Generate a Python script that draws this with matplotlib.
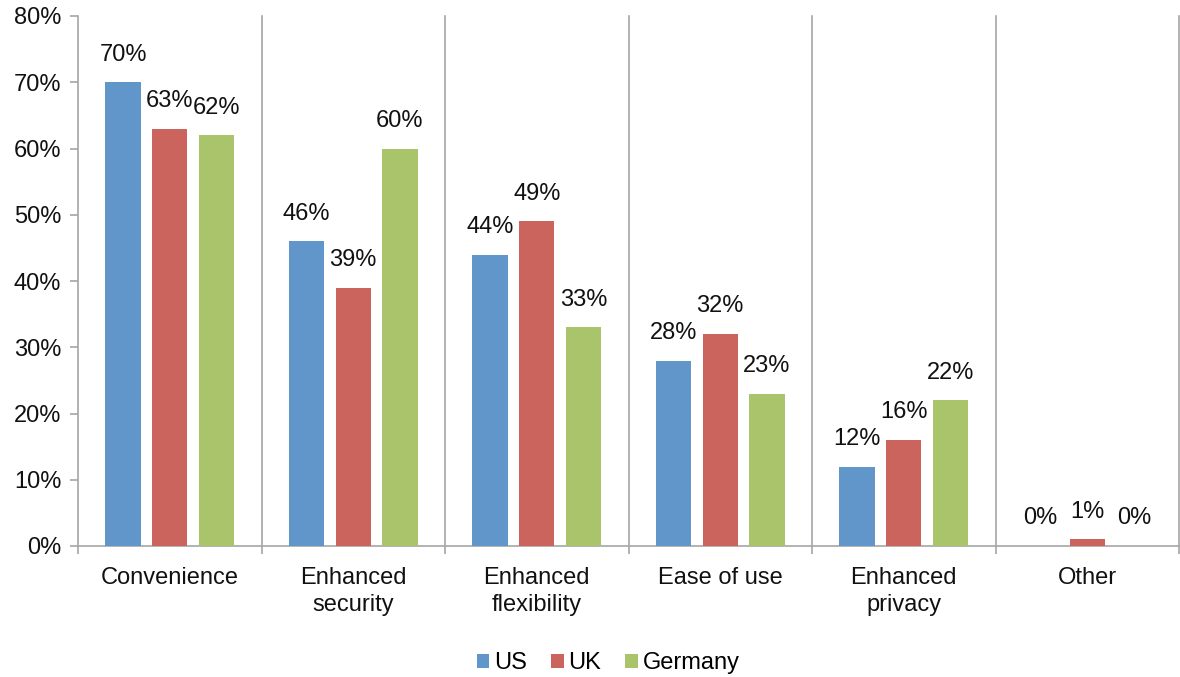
import matplotlib
matplotlib.use("Agg")
import matplotlib.pyplot as plt
import numpy as np
from matplotlib.patches import Patch

plt.rcParams['font.family'] = ['Liberation Sans', 'DejaVu Sans']

categories = ["Convenience", "Enhanced\nsecurity", "Enhanced\nflexibility",
              "Ease of use", "Enhanced\nprivacy", "Other"]
series_names = ["US", "UK", "Germany"]
us = [70, 46, 44, 28, 12, 0]
uk = [63, 39, 49, 32, 16, 1]
germany = [62, 60, 33, 23, 22, 0]
yticks = [0, 10, 20, 30, 40, 50, 60, 70, 80]
colors = ["#6096C9", "#CC645E", "#A9C46B"]

fig = plt.figure(figsize=(11.8, 6.77), dpi=100)
ax = fig.add_axes([78/1180, 1-546/677, (1179-78)/1180, (546-16)/677])

x = np.arange(len(categories))
width = 0.193
offsets = [-0.254, 0.0, 0.254]
fs = 17
for vals, off, c in zip([us, uk, germany], offsets, colors):
    bars = ax.bar(x + off, vals, width=width, color=c, zorder=3)
    for xi, v in zip(x + off, vals):
        ax.annotate(f"{v}%", (xi, v), xytext=(0, 12), textcoords="offset points",
                    ha="center", va="bottom", fontsize=fs, color="#111111")

ax.set_xlim(-0.5, len(categories) - 0.5)
ax.set_ylim(0, 80)
ax.set_yticks(yticks)
ax.set_yticklabels([f"{t}%" for t in yticks], fontsize=fs, color="#111111")

gray = "#A6A6A6"
for b in np.arange(0.5, len(categories), 1.0):
    ax.axvline(b, color=gray, lw=1.2, zorder=1, clip_on=False)

ax.set_xticks(np.arange(-0.5, len(categories), 1.0))
ax.set_xticklabels([])
ax.set_xticks(x, minor=True)
ax.set_xticklabels(categories, minor=True, fontsize=fs, linespacing=1.28, color="#111111")
ax.tick_params(axis='x', which='minor', length=0, pad=15)
ax.tick_params(axis='x', which='major', length=6, width=1.2, color=gray)
ax.tick_params(axis='y', length=6, width=1.2, color=gray, pad=6)

for s in ["top", "right"]:
    ax.spines[s].set_visible(False)
for s in ["left", "bottom"]:
    ax.spines[s].set_color(gray)
    ax.spines[s].set_linewidth(1.2)

handles = [Patch(facecolor=c, edgecolor='none') for c in colors]
fig.legend(handles, series_names, loc="center", bbox_to_anchor=(608/1180, 1-663/677),
           ncol=3, frameon=False, fontsize=fs, handlelength=0.55, handleheight=0.55,
           handletextpad=0.2, columnspacing=1.0)

fig.savefig("out.png", dpi=100)
